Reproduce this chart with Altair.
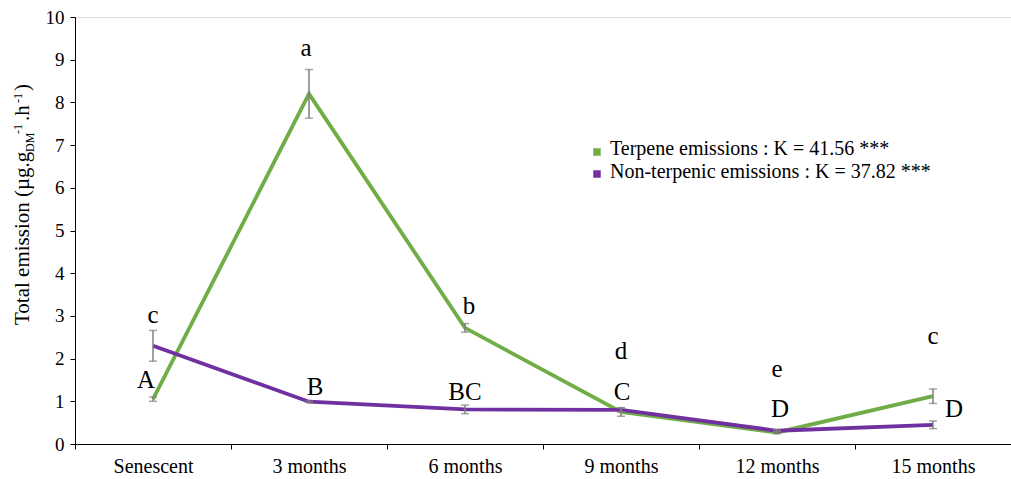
import altair as alt
import pandas as pd

# Sampling periods along the x axis
categories = ["Senescent", "3 months", "6 months", "9 months", "12 months", "15 months"]

# Mean emissions (µg.gDM-1.h-1) and standard errors
terpene = [1.05, 8.20, 2.72, 0.75, 0.27, 1.12]
terpene_err = [0.05, 0.57, 0.10, 0.10, 0.03, 0.17]
nonterp = [2.30, 0.99, 0.81, 0.80, 0.31, 0.45]
nonterp_err = [0.36, 0.02, 0.10, 0.05, 0.02, 0.09]

series_names = [
    "Terpene emissions : K = 41.56 ***",
    "Non-terpenic emissions : K = 37.82 ***",
]
series_colors = ["#70AD47", "#7030A0"]

# Significance letters (lowercase: terpenes, uppercase: non-terpenic)
terpene_letters = ["c", "a", "b", "d", "e", "c"]
terpene_letter_y = [2.83, 9.09, 3.04, 1.98, 1.58, 2.34]
terpene_letter_dx = [0, -3, 4, 0, 0, 0]
nonterp_letters = ["A", "B", "BC", "C", "D", "D"]
nonterp_letter_y = [1.30, 1.15, 1.03, 1.03, 0.63, 0.63]
nonterp_letter_dx = [-7, 6, 0, 1, 3, 21]

FONT = "Liberation Serif, Times New Roman, DejaVu Serif, serif"
W, H = 936, 427

rows = []
for name, vals, errs in [(series_names[0], terpene, terpene_err),
                         (series_names[1], nonterp, nonterp_err)]:
    for i, c in enumerate(categories):
        rows.append({"period": c, "series": name, "value": vals[i],
                     "lo": vals[i] - errs[i], "hi": vals[i] + errs[i], "order": i})
df = pd.DataFrame(rows)

letter_rows = []
for letters, ys, dxs in [(terpene_letters, terpene_letter_y, terpene_letter_dx),
                         (nonterp_letters, nonterp_letter_y, nonterp_letter_dx)]:
    for i, c in enumerate(categories):
        letter_rows.append({"period": c, "label": letters[i], "y": ys[i], "dx": dxs[i]})
letters_df = pd.DataFrame(letter_rows)

xscale = alt.Scale(type="band", domain=categories, paddingInner=0, paddingOuter=0)
yscale = alt.Scale(domain=[0, 10], nice=False)
color_scale = alt.Scale(domain=series_names, range=series_colors)

x_enc = alt.X(
    "period:N", scale=xscale, sort=categories,
    axis=alt.Axis(title=None, tickBand="extent", labelAngle=0, labelFontSize=20,
                  labelFont=FONT, labelColor="black", labelPadding=7, tickSize=5,
                  domainColor="black", tickColor="black", grid=False),
)
y_axis = alt.Axis(title=None, values=list(range(11)), labelFontSize=19, labelFont=FONT,
                  labelColor="black", tickSize=5, labelPadding=6, grid=False,
                  domainColor="black", tickColor="black")

base = alt.Chart(df)

lines = []
for name in series_names:
    lines.append(
        base.transform_filter(alt.datum.series == name).mark_line(strokeWidth=3.8).encode(
            x=x_enc,
            y=alt.Y("value:Q", scale=yscale, axis=y_axis),
            color=alt.Color("series:N", scale=color_scale, legend=None),
            order="order:Q",
        )
    )

err_rule = base.mark_rule(color="#7F7F7F", strokeWidth=1.5).encode(
    x=alt.X("period:N", scale=xscale, sort=categories),
    y=alt.Y("lo:Q", scale=yscale),
    y2="hi:Q",
)
cap_lo = base.mark_tick(color="#7F7F7F", thickness=1.5, size=8).encode(
    x=alt.X("period:N", scale=xscale, sort=categories),
    y=alt.Y("lo:Q", scale=yscale),
)
cap_hi = base.mark_tick(color="#7F7F7F", thickness=1.5, size=8).encode(
    x=alt.X("period:N", scale=xscale, sort=categories),
    y=alt.Y("hi:Q", scale=yscale),
)

letter_layers = []
for dx in sorted(letters_df["dx"].unique()):
    sub = letters_df[letters_df["dx"] == dx]
    letter_layers.append(
        alt.Chart(sub).mark_text(font=FONT, fontSize=25, color="black", dx=int(dx),
                                 baseline="alphabetic", align="center").encode(
            x=alt.X("period:N", scale=xscale, sort=categories),
            y=alt.Y("y:Q", scale=yscale),
            text="label:N",
        )
    )

# Legend drawn as squares and labels
legend_layers = []
for i, (name, col) in enumerate(zip(series_names, series_colors)):
    one = alt.Chart(pd.DataFrame({"t": [name]}))
    legend_layers.append(
        one.mark_square(size=56, color=col, opacity=1).encode(
            x=alt.value(522), y=alt.value(135 + 22 * i))
    )
    legend_layers.append(
        one.mark_text(font=FONT, fontSize=20, color="black", align="left",
                      baseline="alphabetic").encode(
            x=alt.value(535), y=alt.value(138 + 23 * i), text="t:N")
    )

# Rotated y-axis title with sub/superscripts
title_pieces = [
    ("Total emission (µg.g", 21, -46, 308),
    ("DM", 12, -41, 135),
    ("-1", 12, -53, 117),
    (".h", 21, -46, 104),
    ("-1", 12, -53, 86),
    (")", 21, -46, 74),
]
title_layers = []
for text, size, px, py in title_pieces:
    title_layers.append(
        alt.Chart(pd.DataFrame({"t": [text]})).mark_text(
            font=FONT, fontSize=size, color="black", angle=270, align="left",
            baseline="alphabetic").encode(x=alt.value(px), y=alt.value(py), text="t:N")
    )

chart = alt.layer(
    *lines, err_rule, cap_lo, cap_hi, *letter_layers, *legend_layers, *title_layers
).properties(
    width=W, height=H,
    padding={"left": 75, "top": 17, "right": 0, "bottom": 35},
    autosize=alt.AutoSizeParams(type="none"),
    background="white",
).configure_view(stroke=None).configure(font=FONT)

chart.save("out.html", embed_options={"renderer": "svg", "actions": False})
